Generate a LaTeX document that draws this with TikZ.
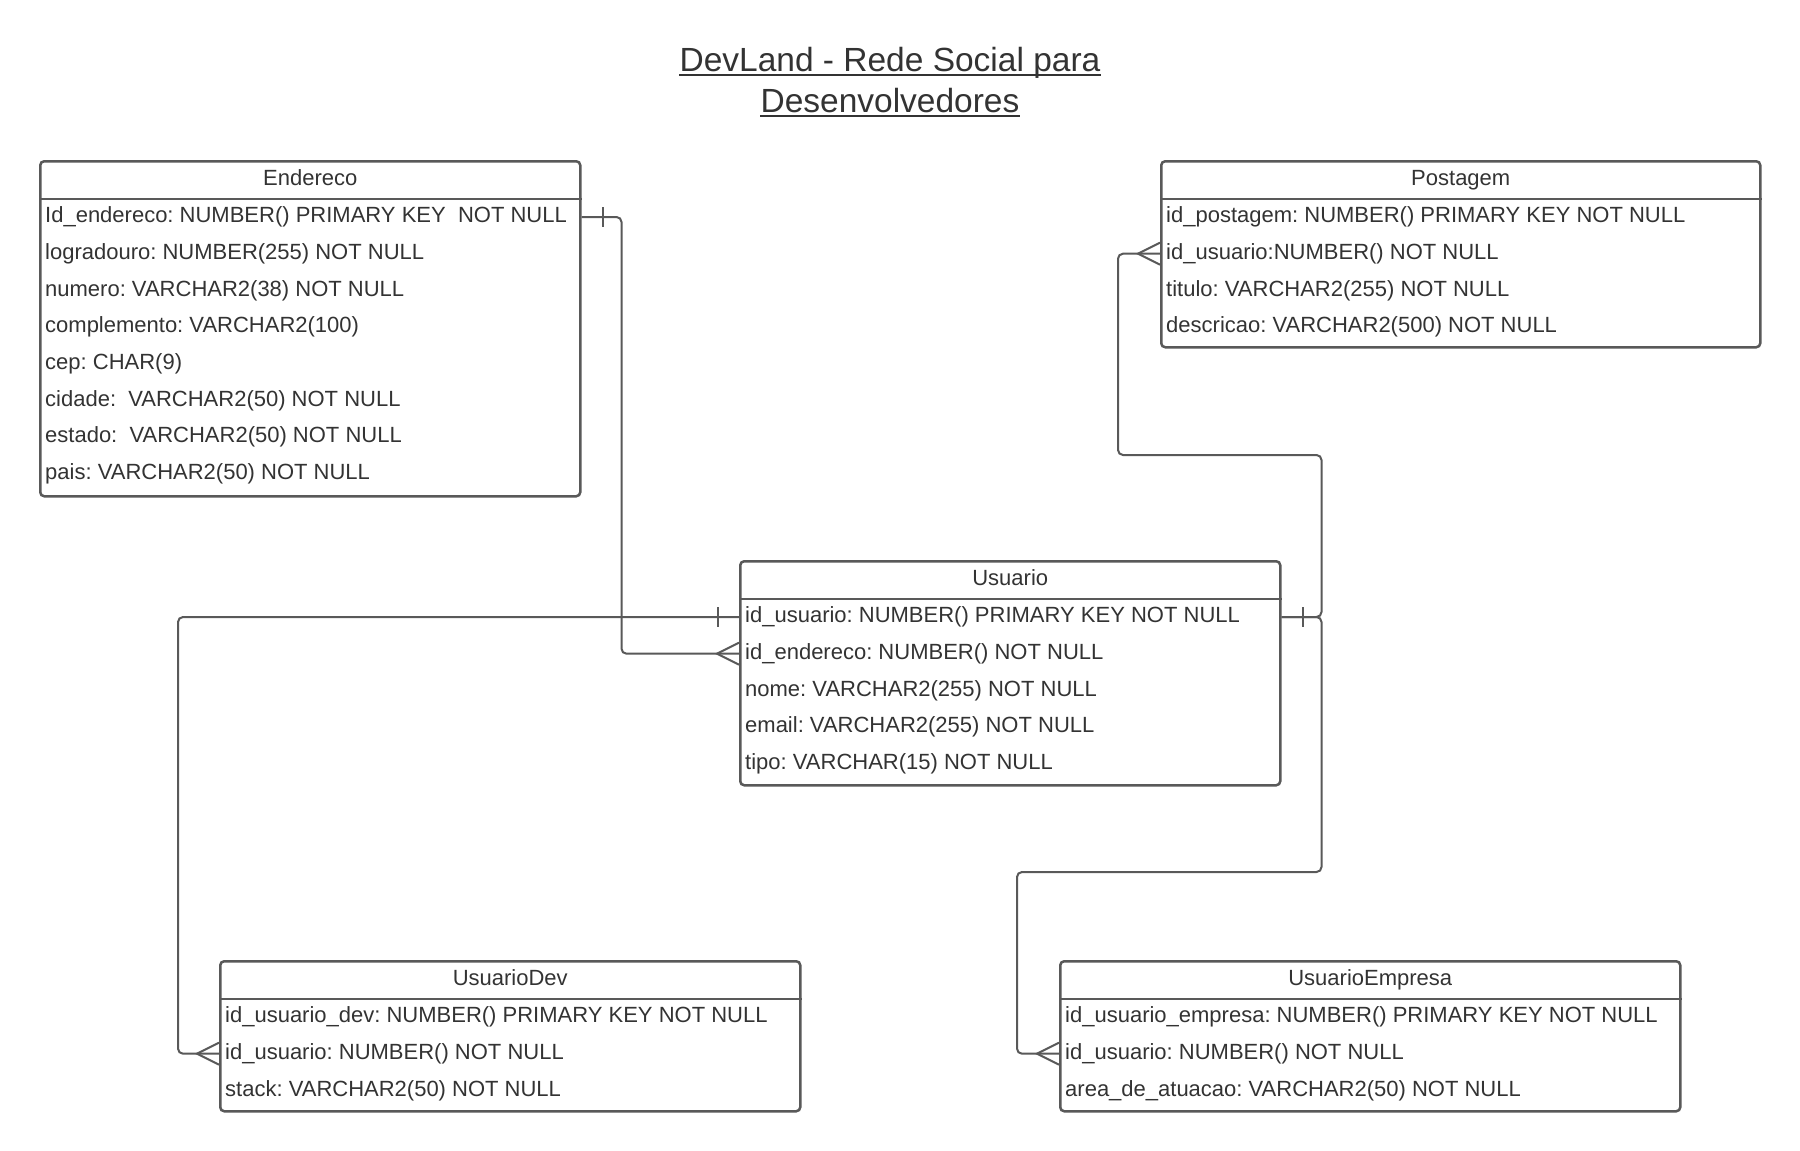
\documentclass[tikz,border=0pt]{standalone}
\usepackage{fontspec}
\setmainfont{Liberation Sans}
\usetikzlibrary{calc}
\frenchspacing
\definecolor{linegray}{HTML}{595959}
\definecolor{textgray}{HTML}{333333}
\tikzset{
  tablebox/.style={draw=linegray, line width=2.5pt, rounded corners=4pt, anchor=north west, inner sep=0pt},
  headrule/.style={draw=linegray, line width=2.5pt},
  header/.style={anchor=north, minimum height=39pt, text height=16pt, text depth=5pt, inner sep=0pt, font=\fontsize{22}{26}\selectfont, text=textgray},
  field/.style={anchor=west, inner sep=0pt, font=\fontsize{22}{26}\selectfont, text=textgray},
  titletext/.style={anchor=base, inner sep=0pt, font=\fontsize{33.5}{40}\selectfont, text=textgray},
  conn/.style={draw=linegray, line width=2pt, rounded corners=5pt},
  pics/onemark/.style={code={\draw[conn] (-21,-10) -- (-21,10);}},
  pics/manymark/.style={code={\draw[conn, rounded corners=0pt] (0,-11) -- (-22,0) -- (0,11);}},
}
\begin{document}
\begin{tikzpicture}[x=1pt,y=-1pt]
    \useasboundingbox[fill=white] (0,0) rectangle (1800,1151);
    % Title
    \node[titletext] (title1) at (890,71) {DevLand - Rede Social para};
    \node[titletext] (title2) at (890,112) {Desenvolvedores};
    \draw[textgray, line width=2.5pt] ([yshift=-4pt]title1.base west) -- ([yshift=-4pt]title1.base east);
    \draw[textgray, line width=2.5pt] ([yshift=-4pt]title2.base west) -- ([yshift=-4pt]title2.base east);
    % Endereco
    \node[tablebox, minimum width=540pt, minimum height=335pt] (endereco) at (39,160) {};
    \node[header] at (endereco.north) {Endereco};
    \draw[headrule] ($(endereco.north west)+(0,39)$) -- ($(endereco.north east)+(0,39)$);
    \foreach \txt [count=\i] in {Id\_endereco: NUMBER() PRIMARY KEY\ \ NOT NULL, logradouro: NUMBER(255) NOT NULL,
        numero: VARCHAR2(38) NOT NULL, complemento: VARCHAR2(100), cep: CHAR(9),
        cidade:\ \ VARCHAR2(50) NOT NULL, estado:\ \ VARCHAR2(50) NOT NULL, pais: VARCHAR2(50) NOT NULL}
        \node[field] (end\i) at ($(endereco.north west)+(6,{57+(\i-1)*36.7})$) {\txt};
    % Postagem
    \node[tablebox, minimum width=599pt, minimum height=186pt] (postagem) at (1160,160) {};
    \node[header] at (postagem.north) {Postagem};
    \draw[headrule] ($(postagem.north west)+(0,39)$) -- ($(postagem.north east)+(0,39)$);
    \foreach \txt [count=\i] in {id\_postagem: NUMBER() PRIMARY KEY NOT NULL, id\_usuario:NUMBER() NOT NULL,
        titulo: VARCHAR2(255) NOT NULL, descricao: VARCHAR2(500) NOT NULL}
        \node[field] (post\i) at ($(postagem.north west)+(6,{57+(\i-1)*36.7})$) {\txt};
    % Usuario
    \node[tablebox, minimum width=540pt, minimum height=224pt] (usuario) at (739,560) {};
    \node[header] at (usuario.north) {Usuario};
    \draw[headrule] ($(usuario.north west)+(0,39)$) -- ($(usuario.north east)+(0,39)$);
    \foreach \txt [count=\i] in {id\_usuario: NUMBER() PRIMARY KEY NOT NULL, id\_endereco: NUMBER() NOT NULL,
        nome: VARCHAR2(255) NOT NULL, email: VARCHAR2(255) NOT NULL, tipo: VARCHAR(15) NOT NULL}
        \node[field] (usu\i) at ($(usuario.north west)+(6,{57+(\i-1)*36.7})$) {\txt};
    % UsuarioDev
    \node[tablebox, minimum width=580pt, minimum height=150pt] (udev) at (219,960) {};
    \node[header] at (udev.north) {UsuarioDev};
    \draw[headrule] ($(udev.north west)+(0,39)$) -- ($(udev.north east)+(0,39)$);
    \foreach \txt [count=\i] in {id\_usuario\_dev: NUMBER() PRIMARY KEY NOT NULL, id\_usuario: NUMBER() NOT NULL,
        stack: VARCHAR2(50) NOT NULL}
        \node[field] (dev\i) at ($(udev.north west)+(6,{57+(\i-1)*36.7})$) {\txt};
    % UsuarioEmpresa
    \node[tablebox, minimum width=620pt, minimum height=150pt] (empresa) at (1059,960) {};
    \node[header] at (empresa.north) {UsuarioEmpresa};
    \draw[headrule] ($(empresa.north west)+(0,39)$) -- ($(empresa.north east)+(0,39)$);
    \foreach \txt [count=\i] in {id\_usuario\_empresa: NUMBER() PRIMARY KEY NOT NULL, id\_usuario: NUMBER() NOT NULL,
        area\_de\_atuacao: VARCHAR2(50) NOT NULL}
        \node[field] (emp\i) at ($(empresa.north west)+(6,{57+(\i-1)*36.7})$) {\txt};
    % Relationships
    \draw[conn] (endereco.east |- end1) -| ([xshift=40pt]endereco.east |- usu2) -- (usuario.west |- usu2);
    \pic[xscale=-1] at (endereco.east |- end1) {onemark};
    \pic at (usuario.west |- usu2) {manymark};
    \draw[conn] (usuario.west |- usu1) -| ([xshift=-41pt]udev.west |- dev2) -- (udev.west |- dev2);
    \pic at (usuario.west |- usu1) {onemark};
    \pic at (udev.west |- dev2) {manymark};
    \draw[conn] (usuario.east |- usu1) -- ++(40,0) -- ++(0,-162) -| ([xshift=-42pt]postagem.west |- post2) -- (postagem.west |- post2);
    \draw[conn] (usuario.east |- usu1) -- ++(40,0) -- ++(0,255) -| ([xshift=-42pt]empresa.west |- emp2) -- (empresa.west |- emp2);
    \pic[xscale=-1] at (usuario.east |- usu1) {onemark};
    \pic at (postagem.west |- post2) {manymark};
    \pic at (empresa.west |- emp2) {manymark};
\end{tikzpicture}
\end{document}
